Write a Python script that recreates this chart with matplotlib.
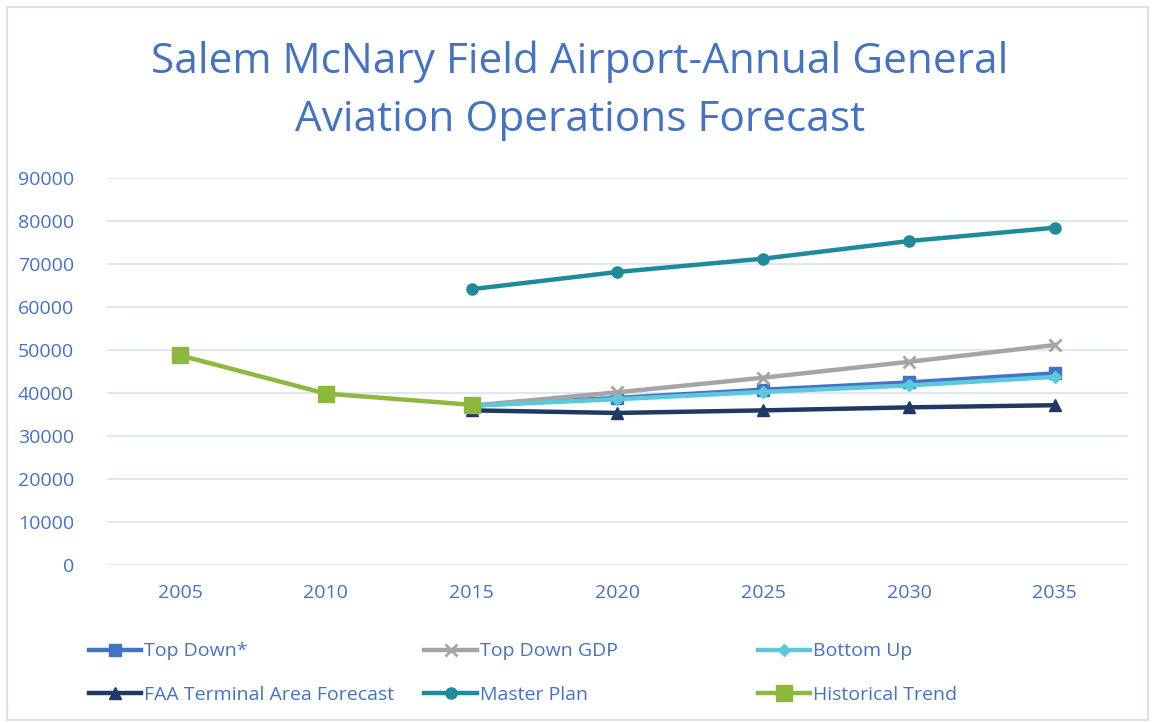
import matplotlib.pyplot as plt
from matplotlib.patches import Rectangle

# --- DATA ---
years = ["2005", "2010", "2015", "2020", "2025", "2030", "2035"]
top_down = [None, None, 37000, 38800, 40700, 42400, 44500]
top_down_gdp = [None, None, 37000, 40100, 43500, 47200, 51100]
bottom_up = [None, None, 37000, 38500, 40200, 41700, 43700]
faa_taf = [None, None, 35900, 35300, 35900, 36600, 37100]
master_plan = [None, None, 64100, 68100, 71200, 75300, 78400]
historical = [48700, 39800, 37200, None, None, None, None]

TEXT_BLUE = "#4472C4"
GRID = "#D9E1F2"


def clean(vals):
    return [float("nan") if v is None else v for v in vals]


def plot_forecast():
    plt.rcParams['font.family'] = ['Open Sans', 'DejaVu Sans']
    fig = plt.figure(figsize=(11.53, 7.23), dpi=100)
    ax = fig.add_axes([0.093, 0.219, 0.885, 0.535])

    x = range(len(years))
    series = [
        ("Top Down*", top_down, "#4472C4", "s", 8),
        ("Top Down GDP", top_down_gdp, "#A5A5A5", "x", 9),
        ("Bottom Up", bottom_up, "#5BC8DB", "D", 6),
        ("FAA Terminal Area Forecast", faa_taf, "#203864", "^", 9),
        ("Master Plan", master_plan, "#1F8A99", "o", 8),
        ("Historical Trend", historical, "#8CB83C", "s", 11),
    ]
    handles = {}
    for label, vals, color, marker, ms in series:
        line, = ax.plot(x, clean(vals), color=color, linewidth=3.2, marker=marker,
                        markersize=ms, markeredgewidth=2 if marker == "x" else 1,
                        markeredgecolor=color, label=label)
        handles[label] = line

    ax.set_ylim(0, 90000)
    ax.set_yticks(range(0, 90001, 10000))
    ax.set_xlim(-0.5, len(years) - 0.5)
    ax.set_xticks(list(x))
    ax.set_xticklabels(years)
    ax.grid(axis="y", color=GRID, linewidth=1.2)
    ax.set_axisbelow(True)
    for s in ax.spines.values():
        s.set_visible(False)
    ax.tick_params(length=0, labelsize=14, labelcolor=TEXT_BLUE)
    ax.tick_params(axis="x", pad=14)
    ax.tick_params(axis="y", pad=24)

    fig.text(0.503, 0.8745, "Salem McNary Field Airport-Annual General\nAviation Operations Forecast",
             ha="center", va="center", fontsize=30.5, color=TEXT_BLUE, linespacing=1.52)

    # three fixed-width legend columns, like the original layout
    columns = [
        (["Top Down*", "FAA Terminal Area Forecast"], 0.077),
        (["Top Down GDP", "Master Plan"], 0.368),
        (["Bottom Up", "Historical Trend"], 0.657),
    ]
    for labels, x0 in columns:
        leg = fig.legend([handles[k] for k in labels], labels, loc="center left",
                         bbox_to_anchor=(x0, 0.069), frameon=False, fontsize=14,
                         handlelength=2.7, handletextpad=0.15, labelspacing=1.3,
                         borderaxespad=0, borderpad=0)
        for t in leg.get_texts():
            t.set_color(TEXT_BLUE)

    fig.patches.append(Rectangle((0.006, 0.004), 0.99, 0.986, transform=fig.transFigure,
                                 fill=False, edgecolor=GRID, linewidth=1.5))

    fig.savefig("out.png", dpi=100)


if __name__ == "__main__":
    plot_forecast()
